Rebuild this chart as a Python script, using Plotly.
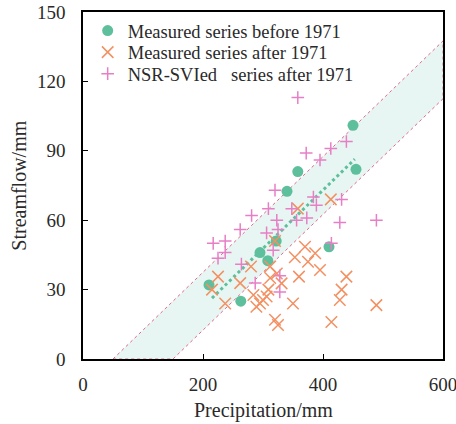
import numpy as np
import plotly.graph_objects as go

# Measured series before 1971
pre_P = [210, 263, 295, 308, 322, 340, 358, 410, 450, 455]
pre_Q = [32, 25, 46, 42.5, 51, 72.5, 81, 48.5, 101, 82]

# Measured series after 1971
post_P = [225, 215, 262, 237, 284, 300, 289, 312, 320, 325, 280, 312, 323, 331, 309, 295,
          306, 353, 387, 370, 375, 395, 360, 350, 414, 439, 431, 428, 489, 358, 413, 320]
post_Q = [35.6, 30, 32.8, 24, 27.7, 25.5, 22.6, 35, 17, 14.7, 40, 40, 37, 32.7, 30, 24,
          27, 44, 45.7, 48.5, 42, 38.5, 35.6, 24, 16, 35.6, 30, 25.5, 23.3, 65, 69, 51]

# NSR-SVIed series after 1971
nsr_P = [358, 372, 395, 413, 439, 320, 309, 281, 262, 217, 237, 323, 306, 348, 356, 373,
         384, 389, 431, 428, 489, 414, 237, 225, 264, 287, 328, 328, 317, 325]
nsr_Q = [113, 89, 86, 91, 94, 73, 65, 62, 56, 50, 51, 60, 54.5, 65, 60, 61,
         70, 66.5, 69, 59, 60, 50, 46, 43.6, 41, 32.8, 36, 29, 47, 56]

series_names = ["Measured series before 1971", "Measured series after 1971",
                "NSR-SVIed\u00a0\u00a0 series after 1971"]
x_ticks = [0, 200, 400, 600]
y_ticks = [0, 30, 60, 90, 120, 150]

# Envelope band: Q = slope * (P - offset)
band_slope = 0.25
band_upper_offset = 50
band_lower_offset = 150
x_max = 600

FONT = "Liberation Serif, Times New Roman, serif"
GREEN = "#5ebf9c"
ORANGE = "#f39062"
PINK = "#e77fc6"
BAND_FILL = "#e7f6f2"
BAND_LINE = "#e2678f"
TXT = "#2a2a2a"

fig = go.Figure()

# band polygon
bx = [band_upper_offset, x_max, x_max, band_lower_offset, band_upper_offset]
by = [0, band_slope * (x_max - band_upper_offset), band_slope * (x_max - band_lower_offset), 0, 0]
fig.add_trace(go.Scatter(x=bx, y=by, mode="lines", fill="toself", fillcolor=BAND_FILL,
                         line=dict(color=BAND_LINE, width=1, dash="dot"),
                         showlegend=False, hoverinfo="skip"))

# regression of pre-1971 series
coef = np.polyfit(pre_P, pre_Q, 1)
fx = np.array([min(pre_P) + 5, max(pre_P) - 2])
fig.add_trace(go.Scatter(x=fx, y=np.polyval(coef, fx), mode="lines",
                         line=dict(color=GREEN, width=3, dash="dot"),
                         showlegend=False, hoverinfo="skip"))

fig.add_trace(go.Scatter(x=pre_P, y=pre_Q, mode="markers", name=series_names[0], legend="legend",
                         marker=dict(symbol="circle", size=11, color=GREEN)))
fig.add_trace(go.Scatter(x=post_P, y=post_Q, mode="markers", name=series_names[1], legend="legend2",
                         marker=dict(symbol="x-thin-open", size=11.5, color=ORANGE,
                                     line=dict(color=ORANGE, width=1.5))))
fig.add_trace(go.Scatter(x=nsr_P, y=nsr_Q, mode="markers", name=series_names[2], legend="legend3",
                         marker=dict(symbol="cross-thin-open", size=9, color=PINK,
                                     line=dict(color=PINK, width=1.5))))

leg_common = dict(x=0.013, xanchor="left", yanchor="middle", bgcolor="rgba(0,0,0,0)",
                  font=dict(family=FONT, size=18.5, color=TXT), itemwidth=30)

fig.update_layout(
    width=456, height=424,
    margin=dict(l=83, r=13, t=12, b=65),
    paper_bgcolor="white", plot_bgcolor="white",
    font=dict(family=FONT, size=19, color=TXT),
    legend=dict(y=0.945, **leg_common),
    legend2=dict(y=0.883, **leg_common),
    legend3=dict(y=0.821, **leg_common),
    annotations=[
        dict(text="Precipitation/mm", xref="paper", yref="paper", x=0.5, y=-0.147,
             xanchor="center", yanchor="middle", showarrow=False,
             font=dict(family=FONT, size=20, color=TXT)),
        dict(text="Streamflow/mm", xref="paper", yref="paper", x=-0.18, y=0.5,
             xanchor="center", yanchor="middle", showarrow=False, textangle=-90,
             font=dict(family=FONT, size=20, color=TXT)),
    ],
)
fig.update_xaxes(range=[0, 600], tickvals=x_ticks, showgrid=False, zeroline=False,
                 showline=True, linecolor="black", linewidth=1.5, mirror=True,
                 ticks="inside", ticklen=5, tickcolor="black", automargin=False,
                 ticklabelstandoff=7, ticklabeloverflow="allow")
fig.update_yaxes(range=[0, 150], tickvals=y_ticks, showgrid=False, zeroline=False,
                 showline=True, linecolor="black", linewidth=1.5, mirror=True,
                 ticks="inside", ticklen=5, tickcolor="black", automargin=False,
                 ticklabelstandoff=12, ticklabeloverflow="allow")

fig.write_html("out.html", config={"displayModeBar": False},
               post_script="document.body.style.margin='0px';")
